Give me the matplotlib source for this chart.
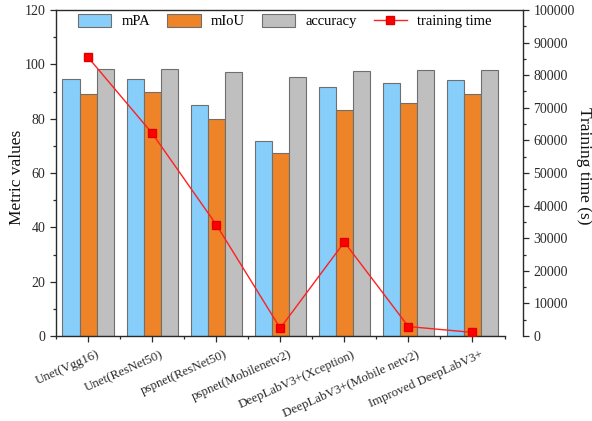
import matplotlib
matplotlib.use("Agg")
import matplotlib.pyplot as plt
import matplotlib.transforms as mtransforms
import numpy as np
from matplotlib.ticker import MultipleLocator
from matplotlib.lines import Line2D
from matplotlib.patches import Patch

categories = ['Unet(Vgg16)', 'Unet(ResNet50)', 'pspnet(ResNet50)', 'pspnet(Mobilenetv2)',
              'DeepLabV3+(Xception)', 'DeepLabV3+(Mobile netv2)', 'Improved DeepLabV3+']
mPA = [94.7, 94.7, 85.1, 71.6, 91.5, 93.1, 94.2]
mIoU = [89.2, 89.7, 79.7, 67.4, 83.3, 85.9, 89.0]
accuracy = [98.3, 98.3, 97.0, 95.2, 97.4, 97.8, 98.0]
training_time = [85500, 62200, 34200, 2400, 28800, 2900, 1100]

plt.rcParams['font.family'] = ['Liberation Serif', 'DejaVu Serif']

W, H = 592, 421
fig = plt.figure(figsize=(W / 100, H / 100), dpi=100)
left, right_main, right_twin, top, bottom = 56, 504.5, 523, 10, 336
ax = fig.add_axes([left / W, (H - bottom) / H, (right_main - left) / W, (bottom - top) / H])
ax2 = fig.add_axes([left / W, (H - bottom) / H, (right_twin - left) / W, (bottom - top) / H])
ax2.patch.set_alpha(0)

tc = '#2a2a2a'
x = np.arange(len(categories))
bw = 0.266
c_blue, c_orange, c_gray = '#87CEFA', '#EE8427', '#BFBFBF'
ec = '#6f6f6f'
ax.bar(x - bw, mPA, bw, color=c_blue, edgecolor=ec, linewidth=0.8)
ax.bar(x, mIoU, bw, color=c_orange, edgecolor=ec, linewidth=0.8)
ax.bar(x + bw, accuracy, bw, color=c_gray, edgecolor=ec, linewidth=0.8)

ax.set_xlim(-0.5, 6.5)
ax.set_ylim(0, 120)
ax.yaxis.set_major_locator(MultipleLocator(20))
ax.yaxis.set_minor_locator(MultipleLocator(10))
ax.set_xticks(x)
ax.set_xticks(np.arange(-0.5, 7, 1), minor=True)
ax.set_xticklabels(categories, rotation=24, ha='right', rotation_mode='anchor', fontsize=9.3)
ax.tick_params(axis='both', which='major', direction='out', length=4, width=0.9, colors=tc)
ax.tick_params(axis='y', which='major', labelsize=10)
ax.tick_params(axis='both', which='minor', direction='out', length=2.5, width=0.9, colors=tc)
ax.tick_params(axis='x', pad=5)
offset = mtransforms.ScaledTranslation(8 / 100, 0, fig.dpi_scale_trans)
for lbl in ax.get_xticklabels():
    lbl.set_transform(lbl.get_transform() + offset)
ax.spines['top'].set_visible(False)
ax.spines['right'].set_visible(False)
for s in ['left', 'bottom']:
    ax.spines[s].set_linewidth(1.0)
    ax.spines[s].set_color(tc)

scale = (right_twin - left) / (right_main - left)
ax2.set_xlim(-0.5, -0.5 + 7 * scale)
ax2.set_ylim(0, 100000)
ax2.plot(x, training_time, color='#FF2020', linewidth=1.0, marker='s', markersize=6,
         markerfacecolor='#FF0000', markeredgecolor='#E00000')
ax2.set_xticks([])
ax2.yaxis.tick_right()
ax2.yaxis.set_major_locator(MultipleLocator(10000))
ax2.yaxis.set_minor_locator(MultipleLocator(5000))
ax2.tick_params(axis='y', which='major', direction='out', length=4, width=0.9, labelsize=10, colors=tc)
ax2.tick_params(axis='y', which='minor', direction='out', length=2.5, width=0.9, colors=tc)
ax2.spines['left'].set_visible(False)
ax2.spines['bottom'].set_visible(False)
for s in ['top', 'right']:
    ax2.spines[s].set_linewidth(1.0)
    ax2.spines[s].set_color(tc)

fig.text(17.5 / W, 1 - 177 / H, 'Metric values', rotation=90, ha='center', va='center',
         fontsize=12.5, color='#111111')
fig.text(584 / W, 1 - 166 / H, 'Training time (s)', rotation=270, ha='center', va='center',
         fontsize=12.5, color='#111111')

handles = [Patch(facecolor=c_blue, edgecolor=ec, linewidth=0.8, label='mPA'),
           Patch(facecolor=c_orange, edgecolor=ec, linewidth=0.8, label='mIoU'),
           Patch(facecolor=c_gray, edgecolor=ec, linewidth=0.8, label='accuracy'),
           Line2D([0], [0], color='#FF2020', linewidth=1.0, marker='s', markersize=6,
                  markerfacecolor='#FF0000', markeredgecolor='#E00000', label='training time')]
ax2.legend(handles=handles, loc='upper center', ncol=4, frameon=False, fontsize=10.5,
           handlelength=2.3, handleheight=1.0, columnspacing=1.15, handletextpad=0.7,
           bbox_to_anchor=(0.49, 1.015), borderaxespad=0.2)

fig.savefig('out.png', dpi=100)
